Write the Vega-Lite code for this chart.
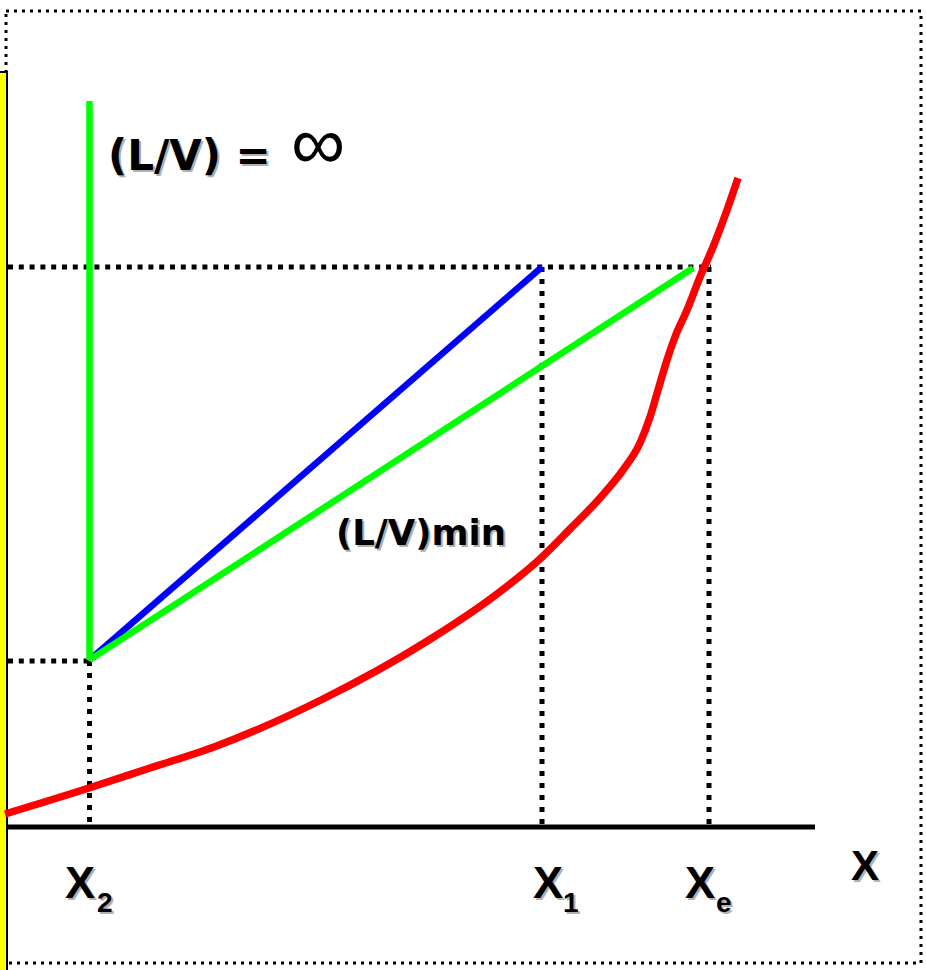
{
  "$schema": "https://vega.github.io/schema/vega-lite/v6.json",
  "width": 926,
  "height": 970,
  "autosize": "none",
  "padding": 0,
  "background": "white",
  "config": {"view": {"stroke": null}},
  "datasets": {
    "frame": [{"x": -0.02, "y": 8.16, "x2": 9.13, "y2": -1.36}],
    "panel": [{"x": -0.2, "y": 7.55, "x2": -0.01, "y2": -1.6}],
    "baseline": [{"x": -0.01, "y": 0, "x2": 8.07, "y2": 0}],
    "hguides": [
      {"x": 0, "y": 5.6, "x2": 7.03, "y2": 5.6},
      {"x": 0, "y": 1.66, "x2": 0.84, "y2": 1.66}
    ],
    "vguides": [
      {"x": 5.34, "y": 5.6, "x2": 5.34, "y2": 0},
      {"x": 7.01, "y": 5.6, "x2": 7.01, "y2": 0},
      {"x": 0.815, "y": 1.66, "x2": 0.815, "y2": 0}
    ],
    "operating": [
      {"series": "actual", "i": 0, "x": 0.815, "y": 1.67},
      {"series": "actual", "i": 1, "x": 5.34, "y": 5.6},
      {"series": "minimum", "i": 0, "x": 0.815, "y": 1.67},
      {"series": "minimum", "i": 1, "x": 6.85, "y": 5.59},
      {"series": "infinite", "i": 0, "x": 0.815, "y": 1.67},
      {"series": "infinite", "i": 1, "x": 0.815, "y": 7.26}
    ],
    "equilibrium": [
      {"x": -0.03, "y": 0.13},
      {"x": 0.81, "y": 0.39},
      {"x": 1.42, "y": 0.59},
      {"x": 2.06, "y": 0.8},
      {"x": 3.13, "y": 1.27},
      {"x": 4.21, "y": 1.87},
      {"x": 4.85, "y": 2.3},
      {"x": 5.33, "y": 2.69},
      {"x": 5.62, "y": 2.98},
      {"x": 5.92, "y": 3.29},
      {"x": 6.15, "y": 3.57},
      {"x": 6.32, "y": 3.84},
      {"x": 6.42, "y": 4.1},
      {"x": 6.5, "y": 4.37},
      {"x": 6.59, "y": 4.67},
      {"x": 6.67, "y": 4.9},
      {"x": 6.79, "y": 5.17},
      {"x": 6.92, "y": 5.5},
      {"x": 7.05, "y": 5.8},
      {"x": 7.19, "y": 6.17},
      {"x": 7.3, "y": 6.49}
    ],
    "labels": [
      {"kind": "big", "label": "(L/V) = ", "x": 1.0, "y": 6.57},
      {"kind": "inf", "label": "∞", "x": 2.83, "y": 6.58},
      {"kind": "mid", "label": "(L/V)min", "x": 3.28, "y": 2.82},
      {"kind": "x", "label": "X", "x": 0.57, "y": -0.71},
      {"kind": "x", "label": "X", "x": 5.25, "y": -0.71},
      {"kind": "x", "label": "X", "x": 6.77, "y": -0.71},
      {"kind": "xaxis", "label": "X", "x": 8.43, "y": -0.53},
      {"kind": "sub", "label": "2", "x": 0.89, "y": -0.85},
      {"kind": "sub", "label": "1", "x": 5.55, "y": -0.85},
      {"kind": "sub", "label": "e", "x": 7.08, "y": -0.85}
    ]
  },
  "encoding": {
    "x": {"field": "x", "type": "quantitative", "scale": {"domain": [-0.08, 9.18], "nice": false, "zero": false}, "axis": null},
    "y": {"field": "y", "type": "quantitative", "scale": {"domain": [-1.43, 8.27], "nice": false, "zero": false}, "axis": null}
  },
  "layer": [
    {
      "data": {"name": "frame"},
      "mark": {"type": "rect", "fill": "transparent", "stroke": "black", "strokeWidth": 3, "strokeDash": [3, 5]},
      "encoding": {"x2": {"field": "x2"}, "y2": {"field": "y2"}}
    },
    {
      "data": {"name": "panel"},
      "mark": {"type": "rect", "fill": "#ffff00", "stroke": "black", "strokeWidth": 2, "clip": true},
      "encoding": {"x2": {"field": "x2"}, "y2": {"field": "y2"}}
    },
    {
      "data": {"name": "hguides"},
      "mark": {"type": "rule", "color": "black", "strokeWidth": 5, "strokeDash": [5, 5.8], "strokeCap": "butt"},
      "encoding": {"x2": {"field": "x2"}, "y2": {"field": "y2"}}
    },
    {
      "data": {"name": "vguides"},
      "mark": {"type": "rule", "color": "black", "strokeWidth": 5, "strokeDash": [5, 7], "strokeCap": "butt"},
      "encoding": {"x2": {"field": "x2"}, "y2": {"field": "y2"}}
    },
    {
      "data": {"name": "baseline"},
      "mark": {"type": "rule", "color": "black", "strokeWidth": 5, "strokeCap": "butt"},
      "encoding": {"x2": {"field": "x2"}, "y2": {"field": "y2"}}
    },
    {
      "data": {"name": "equilibrium"},
      "mark": {"type": "line", "color": "#ff0000", "strokeWidth": 7.5, "interpolate": "monotone", "strokeCap": "butt", "clip": true},
      "encoding": {}
    },
    {
      "data": {"name": "operating"},
      "transform": [{"filter": "datum.series === 'actual'"}],
      "mark": {"type": "line", "color": "#0000ff", "strokeWidth": 6.5, "strokeCap": "butt"},
      "encoding": {"order": {"field": "i"}}
    },
    {
      "data": {"name": "operating"},
      "transform": [{"filter": "datum.series !== 'actual'"}],
      "mark": {"type": "line", "color": "#00ff00", "strokeWidth": 6.5, "strokeCap": "butt"},
      "encoding": {"order": {"field": "i"}, "detail": {"field": "series"}}
    },
    {
      "data": {"name": "labels"},
      "transform": [{"filter": "datum.kind === 'big'"}],
      "mark": {"type": "text", "font": "DejaVu Sans", "fontWeight": "bold", "fontSize": 42, "align": "left", "baseline": "alphabetic", "color": "#b0b0b0", "dx": 2, "dy": 2},
      "encoding": {"text": {"field": "label"}}
    },
    {
      "data": {"name": "labels"},
      "transform": [{"filter": "datum.kind === 'big'"}],
      "mark": {"type": "text", "font": "DejaVu Sans", "fontWeight": "bold", "fontSize": 42, "align": "left", "baseline": "alphabetic", "color": "black"},
      "encoding": {"text": {"field": "label"}}
    },
    {
      "data": {"name": "labels"},
      "transform": [{"filter": "datum.kind === 'inf'"}],
      "mark": {"type": "text", "font": "Liberation Sans", "fontSize": 76, "align": "left", "baseline": "alphabetic", "color": "black"},
      "encoding": {"text": {"field": "label"}}
    },
    {
      "data": {"name": "labels"},
      "transform": [{"filter": "datum.kind === 'mid'"}],
      "mark": {"type": "text", "font": "DejaVu Sans", "fontWeight": "bold", "fontSize": 35.5, "align": "left", "baseline": "alphabetic", "color": "#b0b0b0", "dx": 2, "dy": 2},
      "encoding": {"text": {"field": "label"}}
    },
    {
      "data": {"name": "labels"},
      "transform": [{"filter": "datum.kind === 'mid'"}],
      "mark": {"type": "text", "font": "DejaVu Sans", "fontWeight": "bold", "fontSize": 35.5, "align": "left", "baseline": "alphabetic", "color": "black"},
      "encoding": {"text": {"field": "label"}}
    },
    {
      "data": {"name": "labels"},
      "transform": [{"filter": "datum.kind === 'x'"}],
      "mark": {"type": "text", "font": "Liberation Sans", "fontWeight": "bold", "fontSize": 45, "align": "left", "baseline": "alphabetic", "color": "#b0b0b0", "dx": 2, "dy": 2},
      "encoding": {"text": {"field": "label"}}
    },
    {
      "data": {"name": "labels"},
      "transform": [{"filter": "datum.kind === 'x'"}],
      "mark": {"type": "text", "font": "Liberation Sans", "fontWeight": "bold", "fontSize": 45, "align": "left", "baseline": "alphabetic", "color": "black"},
      "encoding": {"text": {"field": "label"}}
    },
    {
      "data": {"name": "labels"},
      "transform": [{"filter": "datum.kind === 'xaxis'"}],
      "mark": {"type": "text", "font": "Liberation Sans", "fontWeight": "bold", "fontSize": 42, "align": "left", "baseline": "alphabetic", "color": "#b0b0b0", "dx": 2, "dy": 2},
      "encoding": {"text": {"field": "label"}}
    },
    {
      "data": {"name": "labels"},
      "transform": [{"filter": "datum.kind === 'xaxis'"}],
      "mark": {"type": "text", "font": "Liberation Sans", "fontWeight": "bold", "fontSize": 42, "align": "left", "baseline": "alphabetic", "color": "black"},
      "encoding": {"text": {"field": "label"}}
    },
    {
      "data": {"name": "labels"},
      "transform": [{"filter": "datum.kind === 'sub'"}],
      "mark": {"type": "text", "font": "Liberation Sans", "fontWeight": "bold", "fontSize": 28, "align": "left", "baseline": "alphabetic", "color": "#b0b0b0", "dx": 2, "dy": 2},
      "encoding": {"text": {"field": "label"}}
    },
    {
      "data": {"name": "labels"},
      "transform": [{"filter": "datum.kind === 'sub'"}],
      "mark": {"type": "text", "font": "Liberation Sans", "fontWeight": "bold", "fontSize": 28, "align": "left", "baseline": "alphabetic", "color": "black"},
      "encoding": {"text": {"field": "label"}}
    }
  ]
}
